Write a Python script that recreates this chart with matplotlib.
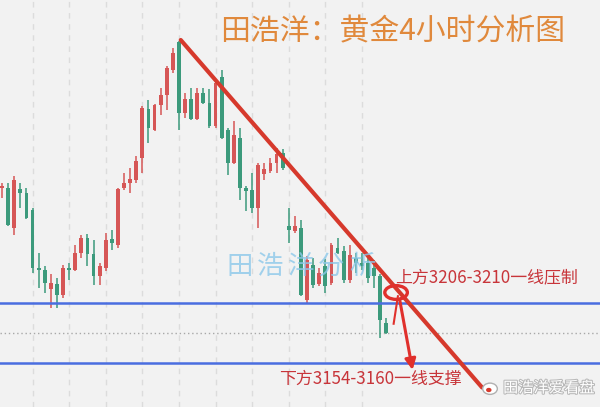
import numpy as np
import matplotlib
matplotlib.use("Agg")
from matplotlib import pyplot as plt
from matplotlib.patches import Ellipse
import matplotlib.patheffects as pe

plt.rcParams['font.family'] = ['Noto Sans CJK SC', 'DejaVu Sans']

# gold 4h candles (red = up, green = down)
opens = [3298, 3298, 3266, 3297, 3294, 3280, 3234, 3232, 3217, 3221,
         3212, 3234, 3232, 3246, 3258, 3245, 3227, 3234, 3257, 3252,
         3298, 3302, 3304, 3322, 3361, 3344, 3364, 3372, 3392, 3414,
         3358, 3369, 3353, 3374, 3366, 3347, 3386, 3344, 3318, 3338,
         3298, 3296, 3282, 3309, 3311, 3318, 3326, 3267, 3263, 3266,
         3208, 3236, 3221, 3235, 3222, 3250, 3247, 3224, 3242, 3238,
         3238, 3234, 3227, 3190]
highs = [3302, 3302, 3307, 3302, 3298, 3282, 3246, 3235, 3229, 3226,
         3236, 3238, 3252, 3260, 3261, 3256, 3238, 3262, 3264, 3298,
         3310, 3314, 3323, 3363, 3368, 3365, 3378, 3395, 3410, 3415,
         3374, 3378, 3378, 3378, 3377, 3384, 3392, 3346, 3351, 3346,
         3299, 3310, 3318, 3318, 3322, 3330, 3329, 3282, 3275, 3272,
         3243, 3242, 3234, 3241, 3254, 3258, 3251, 3252, 3246, 3246,
         3242, 3240, 3229, 3194]
lows = [3290, 3267, 3260, 3282, 3273, 3230, 3218, 3214, 3202, 3202,
        3210, 3224, 3231, 3242, 3235, 3220, 3220, 3231, 3248, 3250,
        3296, 3294, 3302, 3310, 3334, 3343, 3356, 3360, 3390, 3344,
        3354, 3352, 3352, 3365, 3346, 3346, 3337, 3308, 3317, 3288,
        3279, 3278, 3266, 3304, 3310, 3310, 3312, 3254, 3262, 3211,
        3206, 3218, 3219, 3214, 3220, 3245, 3222, 3222, 3230, 3232,
        3222, 3218, 3178, 3181]
closes = [3299, 3268, 3304, 3294, 3274, 3234, 3232, 3222, 3222, 3212,
          3234, 3232, 3246, 3258, 3245, 3227, 3235, 3256, 3254, 3297,
          3302, 3305, 3319, 3362, 3346, 3364, 3372, 3394, 3406, 3358,
          3369, 3353, 3374, 3366, 3347, 3382, 3338, 3318, 3340, 3298,
          3295, 3282, 3316, 3313, 3318, 3325, 3314, 3264, 3267, 3212,
          3240, 3220, 3230, 3219, 3252, 3246, 3224, 3244, 3238, 3235,
          3226, 3227, 3192, 3182]

resistance_level = 3206   # upper blue line
support_level = 3158      # lower blue line
last_price = 3182         # dotted line
trend_x = [29.3, 78.7]    # trend line ends (candle index)
trend_y = [3416, 3138]
circle_pos = (64.6, 3214)
arrow_from = (65.2, 3208)
arrow_to = (67.3, 3152)
grid_idx = list(range(5, 60, 6))

red = '#d65656'
green = '#3c9a7c'
bg = '#f2f2f2'

fig = plt.figure(figsize=(6, 4.07), dpi=100, facecolor=bg)
ax = fig.add_axes([0, 0, 1, 1])
ax.set_facecolor(bg)
ax.set_xlim(-0.33, 98.03)
ax.set_ylim(3122.4, 3448)
ax.axis('off')

for g in grid_idx:
    ax.axvline(g, color='#dcdcdc', lw=1, ls=(0, (4, 4)), zorder=0)

x = np.arange(len(opens))
o = np.array(opens)
c = np.array(closes)
cols = [red if cc >= oo else green for oo, cc in zip(o, c)]
ax.vlines(x, lows, highs, colors=cols, lw=1.1, zorder=2)
body = np.maximum(np.abs(c - o), 1.2)
ax.bar(x, body, bottom=np.minimum(o, c), width=0.62, color=cols, zorder=3)

ax.axhline(resistance_level, color='#4a6ee0', lw=1.8, zorder=4)
ax.axhline(support_level, color='#4a6ee0', lw=1.8, zorder=4)
ax.axhline(last_price, color='#a8a8a8', lw=1, ls=(0, (1, 2)), zorder=1)

ax.plot(trend_x, trend_y, color='#d6392c', lw=3, solid_capstyle='round', zorder=5)

ax.add_patch(Ellipse(circle_pos, 3.7, 11, fill=False, ec='#e0302c', lw=2.4, zorder=6))
ax.plot([64.2, 64.9], [3189, 3211], color='#e0302c', lw=1.5, zorder=6)
ax.annotate('', xy=arrow_to, xytext=arrow_from,
            arrowprops=dict(arrowstyle='-|>', color='#e0302c', lw=2.2,
                            mutation_scale=16, shrinkA=0, shrinkB=0), zorder=6)

# texts
ax.text(0.654, 0.921, '田浩洋：黄金4小时分析图', transform=ax.transAxes,
        ha='center', va='center', fontsize=21.5, color='#e0893c')
for k, ch in enumerate('田浩洋分析'):
    ax.text((240 + 30.5 * k) / 600, 1 - 266 / 407, ch, transform=ax.transAxes,
            ha='center', va='center', fontsize=19, color='#8cc8ea', alpha=0.8, zorder=7)
ax.text(395 / 600, 1 - 277 / 407, '上方3206-3210一线压制', transform=ax.transAxes,
        ha='left', va='center', fontsize=12.2, color='#c8353a', zorder=8)
ax.text(279 / 600, 1 - 379 / 407, '下方3154-3160一线支撑', transform=ax.transAxes,
        ha='left', va='center', fontsize=12.2, color='#c8353a', zorder=8)

# weibo mark
ax.add_patch(Ellipse((80.0, 3137), 2.4, 9, fc='white', ec='#b0b0b0', lw=1, zorder=8))
ax.add_patch(Ellipse((79.8, 3136), 0.9, 3.5, fc='#d6392c', ec='none', zorder=9))
ax.text(503 / 600, 1 - 388 / 407, '田浩洋爱看盘', transform=ax.transAxes,
        ha='left', va='center', fontsize=11, color='white', zorder=9,
        path_effects=[pe.withStroke(linewidth=1.5, foreground='#b8b8b8')])

plt.savefig('out.png', dpi=100, facecolor=bg)
